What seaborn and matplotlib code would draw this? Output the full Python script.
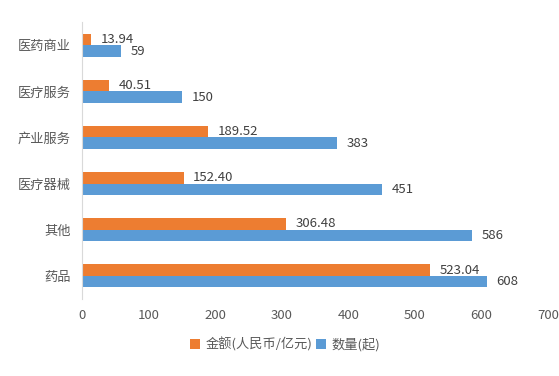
import pandas as pd
import matplotlib.pyplot as plt
import seaborn as sns

categories = ["医药商业", "医疗服务", "产业服务", "医疗器械", "其他", "药品"]
amount = [13.94, 40.51, 189.52, 152.40, 306.48, 523.04]
count = [59, 150, 383, 451, 586, 608]
series_names = ["金额(人民币/亿元)", "数量(起)"]
xticks = [0, 100, 200, 300, 400, 500, 600, 700]

df = pd.DataFrame({
    "category": categories * 2,
    "value": amount + count,
    "series": [series_names[0]] * len(categories) + [series_names[1]] * len(categories),
})

sns.set_style("white")
plt.rcParams["font.family"] = ["Noto Sans CJK SC", "DejaVu Sans"]

fig = plt.figure(figsize=(5.59, 3.76), dpi=100)
ax = fig.add_axes([0.147, 0.205, 0.833, 0.736])

sns.barplot(data=df, y="category", x="value", hue="series", orient="h",
            palette=["#ED7D31", "#5B9BD5"], width=0.5, gap=0, ax=ax,
            saturation=1, linewidth=0, legend=True)

for cont, fmt in zip(ax.containers, ["%.2f", "%d"]):
    ax.bar_label(cont, fmt=fmt, padding=7, fontsize=9.5, color="#404040")

ax.set_xlim(0, 700)
ax.set_xticks(xticks)
ax.set_xlabel("")
ax.set_ylabel("")
ax.tick_params(axis="both", length=0, labelsize=9.5, labelcolor="#595959")
ax.tick_params(axis="x", pad=7)
ax.tick_params(axis="y", pad=8)
for s in ["top", "right", "bottom"]:
    ax.spines[s].set_visible(False)
ax.spines["left"].set_color("#d9d9d9")

handles, labels = ax.get_legend_handles_labels()
ax.get_legend().remove()
fig.legend(handles, labels, loc="center", bbox_to_anchor=(0.51, 0.083), ncol=2,
           frameon=False, fontsize=9.5, handlelength=0.75, handleheight=0.75,
           handletextpad=0.4, columnspacing=0.3, labelcolor="#595959")

fig.savefig("out.png", dpi=100)
